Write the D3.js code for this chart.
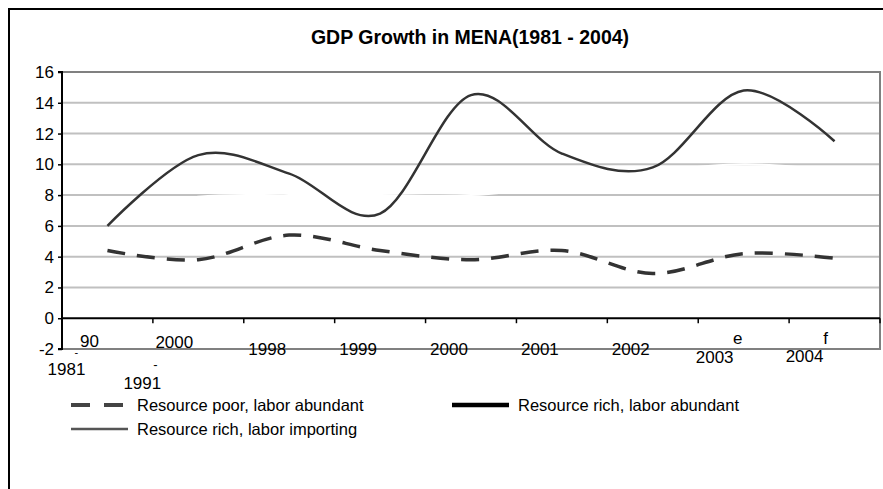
<!DOCTYPE html>
<html>
<head>
<meta charset="utf-8">
<script src="https://cdn.jsdelivr.net/npm/d3@7"></script>
<style>
  html, body { margin: 0; padding: 0; background: #fff; }
  svg { display: block; font-family: "Liberation Sans", Arial, sans-serif; }
</style>
</head>
<body>
<svg id="chart" width="883" height="489"></svg>
<script>
// Periods on the category axis
const categories = ["1981-90", "1991-2000", "1998", "1999", "2000", "2001", "2002", "2003e", "2004f"];
// Tick label lines as they are stacked under each period
const tickLabelLines = [["90", "-", "1981"], ["2000", "-", "1991"], ["1998"], ["1999"], ["2000"], ["2001"], ["2002"], ["e", "2003"], ["f", "2004"]];

// Real GDP growth, percent
const resourcePoorLaborAbundant = [4.4, 3.8, 5.4, 4.4, 3.8, 4.4, 2.9, 4.2, 3.9];
const resourceRichLaborAbundant = [6.8, 7.9, 8.0, 8.0, 8.0, 8.6, 9.5, 10.0, 9.6];
const resourceRichLaborImporting = [6.0, 10.6, 9.4, 6.8, 14.5, 10.7, 9.8, 14.8, 11.5];

const yTicks = [-2, 0, 2, 4, 6, 8, 10, 12, 14, 16];
const seriesNames = ["Resource poor, labor abundant", "Resource rich, labor abundant", "Resource rich, labor importing"];
const titleText = "GDP Growth in MENA(1981 - 2004)";

const svg = d3.select("#chart");
const plot = { left: 62, right: 880, top: 72, bottom: 349 };

const x = d3.scaleBand().domain(categories).range([plot.left, plot.right]).padding(0);
const y = d3.scaleLinear().domain([-2, 16]).range([plot.bottom, plot.top]);
const cx = c => x(c) + x.bandwidth() / 2;

// outer chart frame
svg.append("path")
  .attr("d", `M9,489 L9,9 L883,9`)
  .attr("fill", "none").attr("stroke", "#000").attr("stroke-width", 2);

// title
svg.append("text")
  .attr("x", 470).attr("y", 44)
  .attr("text-anchor", "middle")
  .attr("font-weight", "bold").attr("font-size", 19.5)
  .text(titleText);

// horizontal gridlines
svg.append("g").selectAll("line")
  .data(yTicks.filter(t => t > 0 && t < 16))
  .join("line")
  .attr("x1", plot.left).attr("x2", plot.right)
  .attr("y1", d => y(d)).attr("y2", d => y(d))
  .attr("stroke", "#c0c0c0").attr("stroke-width", 2);

// plot area border (top, right, bottom)
svg.append("path")
  .attr("d", `M${plot.left},${y(16)} H${plot.right} V${y(-2)} H${plot.left}`)
  .attr("fill", "none").attr("stroke", "#808080").attr("stroke-width", 2);

// value axis
const yAxis = d3.axisLeft(y).tickValues(yTicks).tickSize(4).tickPadding(4).tickFormat(d => String(d));
const gy = svg.append("g").attr("transform", `translate(${plot.left},0)`).call(yAxis);
gy.select(".domain").attr("stroke", "#000").attr("stroke-width", 2).attr("d", `M-4,${y(16)}H0V${y(-2)}H-4`);
gy.selectAll(".tick line").attr("stroke", "#000").attr("stroke-width", 1.5);
gy.selectAll(".tick text").attr("font-size", 17).attr("fill", "#000")
  .attr("font-family", "'Liberation Sans', Arial, sans-serif");

// category axis crossing at zero, ticks between categories
const gx = svg.append("g").attr("transform", `translate(0,${y(0)})`);
gx.append("line").attr("x1", plot.left).attr("x2", plot.right)
  .attr("stroke", "#000").attr("stroke-width", 2);
const boundaries = categories.map(c => x(c)).concat([plot.right]);
gx.selectAll("line.tk").data(boundaries).join("line").attr("class", "tk")
  .attr("x1", d => d).attr("x2", d => d).attr("y1", 0).attr("y2", 5)
  .attr("stroke", "#000").attr("stroke-width", 1.5);

// tick labels: each line of a label sits down-left of the line above it
// [dx from category centre, y, font size]
const labelLayout = {
  "1981-90":   [[-18, 341, 17], [-31, 352, 11], [-41, 369, 17]],
  "1991-2000": [[-24, 342, 17], [-43, 364, 13], [-56, 383, 17]],
  "2003e":     [[-6, 338, 17], [-29, 357, 17]],
  "2004f":     [[-9, 338, 17], [-30, 356, 17]]
};
const singleLayout = [[-22, 349, 17]];
const labelG = svg.append("g").attr("fill", "#000");
categories.forEach((c, i) => {
  const lines = tickLabelLines[i];
  const offs = labelLayout[c] || singleLayout;
  lines.forEach((s, j) => {
    labelG.append("text")
      .attr("x", cx(c) + offs[j][0]).attr("y", offs[j][1])
      .attr("font-size", offs[j][2])
      .attr("text-anchor", "middle").attr("dominant-baseline", "central")
      .text(s);
  });
});

// series lines (smoothed)
const line = d3.line()
  .x((d, i) => cx(categories[i]))
  .y(d => y(d))
  .curve(d3.curveCardinal.tension(0));

svg.append("path").datum(resourcePoorLaborAbundant)
  .attr("d", line).attr("fill", "none")
  .attr("stroke", "#333").attr("stroke-width", 3.5).attr("stroke-dasharray", "18,12");

svg.append("path").datum(resourceRichLaborAbundant)
  .attr("d", line).attr("fill", "none")
  .attr("stroke", "#fff").attr("stroke-width", 2);

svg.append("path").datum(resourceRichLaborImporting)
  .attr("d", line).attr("fill", "none")
  .attr("stroke", "#333").attr("stroke-width", 2.5);

// legend
const legendItems = [
  { name: seriesNames[0], x: 71, y: 405, stroke: "#444", width: 4, dash: "19,14" },
  { name: seriesNames[1], x: 452, y: 405, stroke: "#000", width: 4.5, dash: null },
  { name: seriesNames[2], x: 71, y: 429, stroke: "#555", width: 2.5, dash: null }
];
const lg = svg.append("g").selectAll("g").data(legendItems).join("g")
  .attr("transform", d => `translate(${d.x},${d.y})`);
lg.append("line").attr("x1", 0).attr("x2", d => d.dash ? 54 : 57).attr("y1", 0).attr("y2", 0)
  .attr("stroke", d => d.stroke).attr("stroke-width", d => d.width)
  .attr("stroke-dasharray", d => d.dash);
lg.append("text").attr("x", 66).attr("y", 0).attr("dominant-baseline", "central")
  .attr("font-size", 16.5).text(d => d.name);
</script>
</body>
</html>
